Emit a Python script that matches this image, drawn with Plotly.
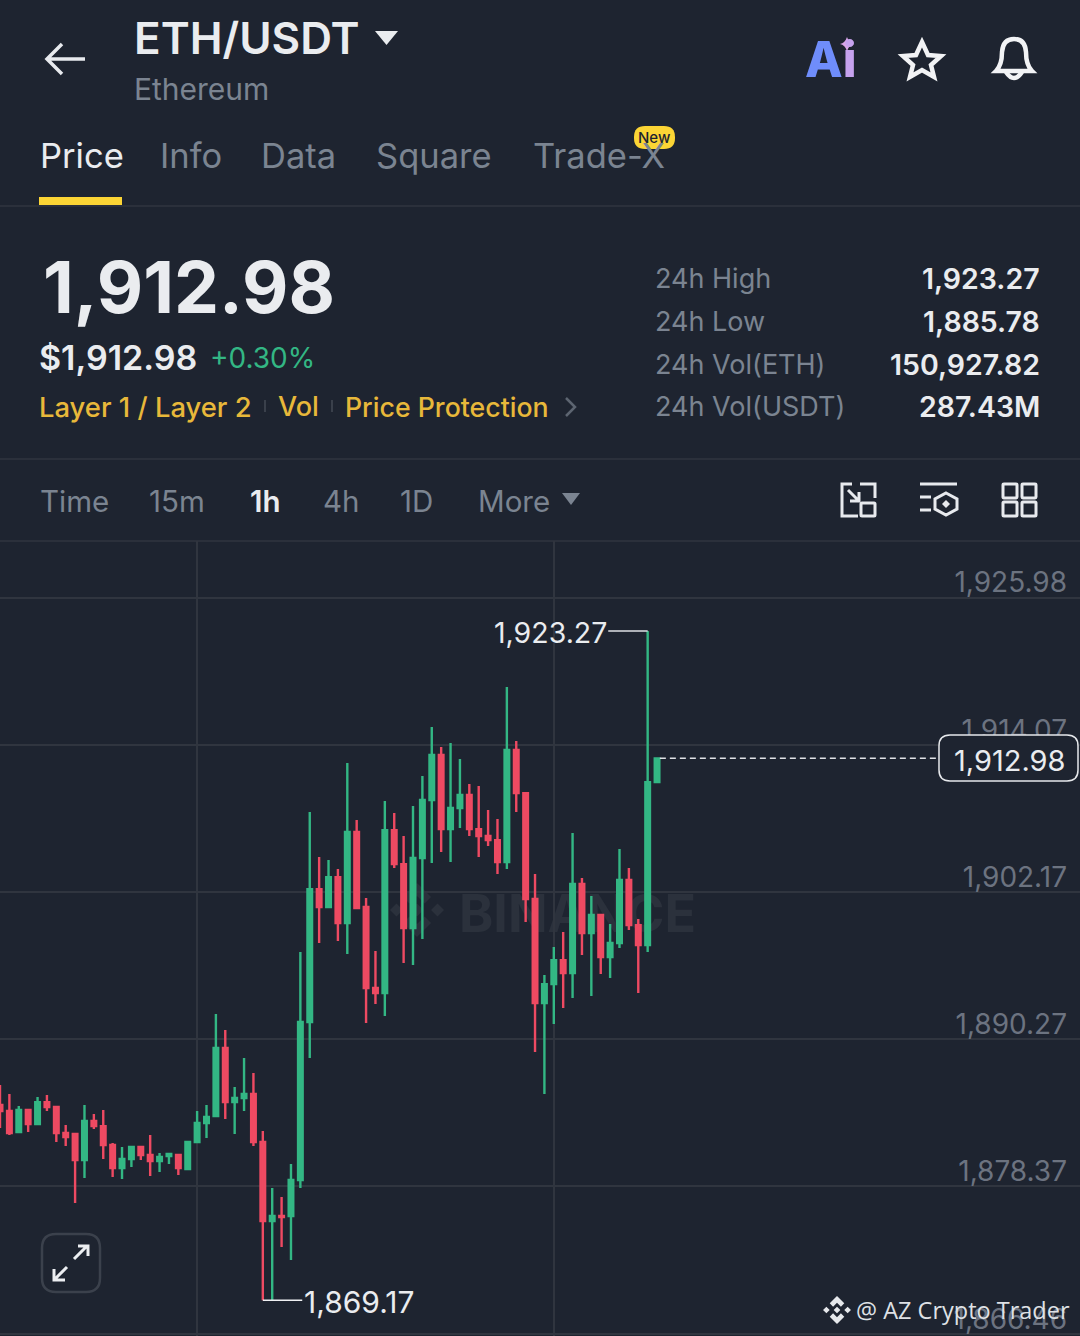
import re
import plotly.graph_objects as go

W, H = 1080, 1336
BG = "#1e2430"
WHITE = "#eaecef"
GRAY = "#7b8491"
GRID = "#30353f"
YELLOW = "#e8b83a"
GREEN = "#33b784"
RED = "#ee4a62"
FONT = "Inter"

opens = [1884.95, 1884.47, 1882.77, 1884.55, 1883.42, 1885.19, 1884.79, 1882.69, 1882.61, 1880.51,
         1883.66, 1883.25, 1881.72, 1879.86, 1880.59, 1881.56, 1880.91, 1880.42, 1880.83, 1880.91,
         1879.78, 1881.96, 1883.50, 1884.06, 1889.56, 1885.19, 1885.52, 1885.84, 1881.96, 1875.57,
         1875.98, 1875.98, 1878.89, 1891.66, 1902.41, 1900.96, 1903.38, 1899.66, 1907.02, 1900.96,
         1894.41, 1894.01, 1907.18, 1904.43, 1899.26, 1904.92, 1909.61, 1913.25, 1907.26, 1908.96,
         1910.01, 1907.26, 1906.70, 1906.37, 1904.60, 1913.65, 1910.17, 1901.61, 1893.20, 1894.73,
         1896.67, 1895.62, 1902.82, 1898.86, 1900.31, 1896.92, 1898.05, 1903.14, 1899.50, 1897.89,
         1911.06]
highs = [1886.57, 1885.84, 1884.87, 1884.55, 1885.60, 1885.76, 1884.79, 1883.33, 1882.61, 1884.95,
         1884.22, 1884.55, 1881.88, 1881.56, 1881.64, 1881.56, 1882.53, 1881.07, 1881.07, 1880.91,
         1881.96, 1884.47, 1884.95, 1892.31, 1891.01, 1886.41, 1888.75, 1887.54, 1882.85, 1878.24,
         1877.51, 1880.18, 1897.32, 1908.64, 1905.00, 1904.76, 1904.03, 1912.60, 1907.99, 1901.69,
         1897.40, 1909.53, 1908.56, 1906.70, 1909.12, 1911.55, 1915.51, 1913.89, 1914.22, 1912.92,
         1910.90, 1910.74, 1908.80, 1908.07, 1918.74, 1914.38, 1910.25, 1903.63, 1895.46, 1897.72,
         1898.94, 1906.94, 1903.30, 1901.85, 1900.31, 1899.58, 1905.65, 1904.11, 1899.99, 1923.27,
         1912.98]
lows = [1883.09, 1882.53, 1882.77, 1882.77, 1883.42, 1884.47, 1881.96, 1881.64, 1877.03, 1879.05,
        1883.01, 1880.59, 1879.13, 1878.97, 1879.94, 1880.51, 1879.21, 1879.54, 1880.18, 1879.29,
        1879.78, 1881.96, 1882.28, 1884.06, 1883.82, 1882.61, 1884.47, 1881.64, 1869.17, 1869.17,
        1873.47, 1872.42, 1878.24, 1888.75, 1898.05, 1900.96, 1898.21, 1897.16, 1900.80, 1891.58,
        1893.12, 1892.15, 1904.11, 1896.43, 1896.27, 1898.37, 1904.51, 1905.40, 1904.60, 1907.34,
        1906.70, 1905.00, 1905.89, 1903.63, 1904.03, 1908.64, 1899.75, 1889.24, 1885.84, 1891.50,
        1892.79, 1893.60, 1897.08, 1893.76, 1895.54, 1895.22, 1897.64, 1899.10, 1894.01, 1897.32,
        1911.06]
closes = [1884.47, 1882.69, 1884.55, 1883.42, 1885.19, 1884.79, 1882.69, 1882.36, 1880.51, 1883.66,
          1883.25, 1881.72, 1879.86, 1880.59, 1881.56, 1880.91, 1880.42, 1880.75, 1880.99, 1879.86,
          1881.96, 1883.50, 1883.98, 1889.56, 1885.19, 1885.52, 1885.84, 1881.96, 1875.57, 1875.98,
          1875.90, 1878.89, 1891.66, 1902.41, 1900.96, 1903.38, 1899.66, 1907.02, 1900.88, 1894.41,
          1894.01, 1907.18, 1904.43, 1899.26, 1904.92, 1909.61, 1913.25, 1907.26, 1908.96, 1910.01,
          1907.26, 1906.70, 1906.37, 1904.60, 1913.65, 1910.17, 1901.61, 1893.20, 1894.73, 1896.67,
          1895.62, 1902.82, 1898.86, 1900.31, 1896.92, 1898.05, 1903.14, 1899.50, 1897.89, 1911.06,
          1912.98]
candle_x = list(range(len(opens)))

price_ticks = [1925.98, 1914.07, 1902.17, 1890.27, 1878.37, 1866.46]
time_grid = [21, 59]
last_price, day_high, day_low = 1912.98, 1923.27, 1869.17
high_idx, low_idx, last_idx = 69, 28, 70

tabs = ["Price", "Info", "Data", "Square", "Trade-X"]
tab_left = [40, 160, 261, 376, 533]
stat_names = ["24h High", "24h Low", "24h Vol(ETH)", "24h Vol(USDT)"]
stat_values = ["1,923.27", "1,885.78", "150,927.82", "287.43M"]
stat_rows = [278, 321, 364, 407]
intervals = ["Time", "15m", "1h", "4h", "1D", "More"]
interval_left = [40, 149, 250, 323, 400, 478]


def px(x):
    return x / W


def py(y):
    return 1 - y / H


def to_paper(d):
    # pixel svg path -> paper coords, numbers are always x y pairs
    out, is_x = [], True
    for tok in re.findall(r"[MLQCZ]|-?\d+\.?\d*", d):
        if tok.isalpha():
            out.append(tok)
        else:
            out.append(f"{px(float(tok)) if is_x else py(float(tok)):.5f}")
            is_x = not is_x
    return " ".join(out)


def path(d, color=None, fill=None, width=3, layer="above"):
    return dict(type="path", path=to_paper(d), xref="paper", yref="paper", layer=layer,
                line=dict(color=color or "rgba(0,0,0,0)", width=width if color else 0),
                fillcolor=fill or "rgba(0,0,0,0)")


def rect(x0, y0, x1, y1, fill):
    return dict(type="rect", xref="paper", yref="paper", x0=px(x0), x1=px(x1), y0=py(y0), y1=py(y1),
                line=dict(width=0), fillcolor=fill, layer="above")


def hline(y, color=GRID):
    return dict(type="line", xref="paper", yref="paper", x0=0, x1=1, y0=py(y), y1=py(y),
                line=dict(color=color, width=1.5), layer="above")


def round_box(x0, y0, x1, y1, r):
    return (f"M {x0+r} {y0} L {x1-r} {y0} Q {x1} {y0} {x1} {y0+r} L {x1} {y1-r} Q {x1} {y1} {x1-r} {y1} "
            f"L {x0+r} {y1} Q {x0} {y1} {x0} {y1-r} L {x0} {y0+r} Q {x0} {y0} {x0+r} {y0} Z")


def diamond(cx, cy, r):
    return f"M {cx} {cy-r} L {cx+r} {cy} L {cx} {cy+r} L {cx-r} {cy} Z "


def logo(cx, cy, s, color, layer="above"):
    # binance mark: centre + side diamonds, top and bottom chevrons
    d = diamond(cx, cy, s * 0.24) + diamond(cx - s * 0.76, cy, s * 0.24) + diamond(cx + s * 0.76, cy, s * 0.24)
    d += (f"M {cx} {cy-s} L {cx+s*0.52} {cy-s*0.48} L {cx+s*0.28} {cy-s*0.24} L {cx} {cy-s*0.52} "
          f"L {cx-s*0.28} {cy-s*0.24} L {cx-s*0.52} {cy-s*0.48} Z ")
    d += (f"M {cx} {cy+s} L {cx+s*0.52} {cy+s*0.48} L {cx+s*0.28} {cy+s*0.24} L {cx} {cy+s*0.52} "
          f"L {cx-s*0.28} {cy+s*0.24} L {cx-s*0.52} {cy+s*0.48} Z")
    return path(d, fill=color, layer=layer)


def label(x, y, text, size, color=GRAY, anchor="left", weight=400, family=FONT):
    return dict(x=px(x), y=py(y), xref="paper", yref="paper", text=text, showarrow=False,
                xanchor=anchor, yanchor="middle", borderpad=0, borderwidth=0,
                font=dict(family=family, size=size, color=color, weight=weight))


fig = go.Figure(go.Candlestick(
    x=candle_x, open=opens, high=highs, low=lows, close=closes,
    increasing=dict(line=dict(color=GREEN, width=2.4), fillcolor=GREEN),
    decreasing=dict(line=dict(color=RED, width=2.4), fillcolor=RED),
    showlegend=False,
))

notes = [
    label(134, 38, "ETH/USDT", 44, WHITE, weight=600),
    label(134, 89, "Ethereum", 30),
    label(654, 137, "New", 15, "#1e2430", "center", 500),
    label(43, 287, "1,912.98", 71.5, WHITE, weight=700),
    label(39, 357, "$1,912.98", 34, WHITE, weight=600),
    label(210, 358, "+0.30%", 28, GREEN),
    label(39, 407, "Layer 1 / Layer 2", 27.4, YELLOW, weight=500),
    label(278, 407, "Vol", 27, YELLOW, weight=500),
    label(345, 407, "Price Protection", 26.7, YELLOW, weight=500),
    label(805, 60, "<span style='color:#6f8dfb'>A</span><span style='color:#c6a2ee'>i</span>", 49, "#6f8dfb", weight=800),
    label(1010, 760, f"{last_price:,.2f}", 29, WHITE, "center"),
    label(607, 632, f"{day_high:,.2f}", 28.5, WHITE, "right"),
    label(304, 1302, f"{day_low:,.2f}", 30, WHITE),
    label(856, 1310, "@ AZ Crypto Trader", 23.5, "#dfe1e5", family="Open Sans"),
]
for name, left, i in zip(tabs, tab_left, range(len(tabs))):
    notes.append(label(left, 156, name, 34.5, WHITE if i == 0 else GRAY))
for name, value, row in zip(stat_names, stat_values, stat_rows):
    notes.append(label(655, row, name, 27))
    notes.append(label(1040, row, value, 28.5, WHITE, "right", 600))
for name, left in zip(intervals, interval_left):
    active = name == "1h"
    notes.append(label(left, 501, name, 29.5, WHITE if active else GRAY, weight=600 if active else 400))

shapes = [
    # watermark goes under the candles
    dict(type="rect", xref="paper", yref="paper", x0=px(450), x1=px(705), y0=py(890), y1=py(932),
         layer="below", line=dict(width=0), fillcolor="rgba(0,0,0,0)",
         label=dict(text="<b>BINANCE</b>", font=dict(family=FONT, size=52, color="#2b313c"),
                    textposition="middle center")),
    logo(417, 910, 27, "#2b313c", "below"),
    hline(206), hline(459), hline(541),
    rect(39, 197, 122, 205, "#fcd535"),
    path(round_box(634, 126, 675, 149, 11), fill="#fcd535"),
    # header icons
    path("M 85 59 L 47 59 M 62 44 L 47 59 L 62 74", "#e8eaee", width=3.5),
    path("M 375 31 L 398 31 L 386.5 45 Z", fill=WHITE),
    path("M 847 37 Q 849 43 854 44 Q 849 45 847 51 Q 845 45 840 44 Q 845 43 847 37 Z", fill="#d9a6e8"),
    path("M 922 42 L 928 55 L 941 56 L 931 65 L 934 77 L 922 70 L 910 77 L 913 65 L 903 56 L 916 55 Z",
         "#f2f3f5", width=4.5),
    path("M 996 71 Q 1002 65 1002 52 Q 1003 39 1014 39 Q 1025 39 1026 52 Q 1026 65 1032 71 Z", "#f2f3f5", width=4.5),
    path("M 1006 72 Q 1014 84 1022 72", "#f2f3f5", width=4.5),
    # small separators and chevron in the tag row
    path("M 265 400 L 265 412", "#3a404b", width=2),
    path("M 332 400 L 332 412", "#3a404b", width=2),
    path("M 566 398 L 575 407 L 566 416", "#5d6571", width=2.5),
    # toolbar icons
    path("M 562 493 L 580 493 L 571 505 Z", fill=GRAY),
    path("M 860 484 L 875 484 L 875 498 M 858 516 L 842 516 L 842 484 L 852 484", "#e8eaee", width=3),
    path(round_box(861, 503, 875, 516, 1), "#e8eaee", width=3),
    path("M 848 490 L 859 501 M 859 492 L 859 501 L 850 501", "#e8eaee", width=3),
    path("M 920 484 L 957 484 M 920 497 L 931 497 M 920 510 L 931 510", "#e8eaee", width=3),
    path("M 946 493 L 957 499 L 957 509 L 946 515 L 935 509 L 935 499 Z", "#e8eaee", width=3),
    path(diamond(946, 504, 4), fill="#e8eaee"),
    path(round_box(1003, 484, 1017, 498, 1), "#e8eaee", width=3),
    path(round_box(1022, 484, 1036, 498, 1), "#e8eaee", width=3),
    path(round_box(1003, 502, 1017, 516, 1), "#e8eaee", width=3),
    path(round_box(1022, 502, 1036, 516, 1), "#e8eaee", width=3),
    # expand button
    path(round_box(42, 1234, 100, 1292, 14), "#3b414c", width=2.5),
    path("M 74 1259 L 87 1246 M 78 1246 L 88 1246 L 88 1256", "#eceef1", width=3),
    path("M 67 1267 L 55 1279 M 54 1269 L 54 1280 L 65 1280", "#eceef1", width=3),
    # high, low and last price leaders
    dict(type="line", xref="x", yref="y", x0=high_idx, x1=64.8, y0=day_high, y1=day_high,
         line=dict(color="#dfe1e5", width=1.5), layer="above"),
    dict(type="line", xref="x", yref="y", x0=low_idx, x1=32.2, y0=day_low, y1=day_low,
         line=dict(color="#f0f1f3", width=1.5), layer="above"),
    dict(type="line", xref="x", yref="y", x0=last_idx + 0.3, x1=100, y0=last_price, y1=last_price,
         line=dict(color="#dfe1e5", width=1.5, dash="6px,4px"), layer="above"),
    path(round_box(939, 735, 1078, 781, 11), "#e6e8eb", BG, 1.5),
    logo(837, 1310, 14, "#e6e8eb"),
]

fig.update_layout(
    width=W, height=H,
    margin=dict(l=0, r=0, t=0, b=0),
    paper_bgcolor=BG, plot_bgcolor=BG,
    boxgap=0.3,
    showlegend=False,
    annotations=notes,
    shapes=shapes,
    xaxis=dict(
        domain=[0, 1], range=[0, 115.06],
        rangeslider=dict(visible=False),
        tickmode="array", tickvals=time_grid, showticklabels=False, ticks="",
        showgrid=True, gridcolor=GRID, gridwidth=1.5, zeroline=False, showline=False,
    ),
    yaxis=dict(
        domain=[0, 1 - 541 / H], range=[1866.28, 1930.55],
        side="right", ticklabelposition="inside",
        tickmode="array", tickvals=price_ticks, tickformat=",.2f",
        tickfont=dict(family=FONT, size=28, color="#6c7380"),
        ticklabelstandoff=10, ticklabelshift=-15, ticks="",
        showgrid=True, gridcolor=GRID, gridwidth=1.5, zeroline=False, showline=False,
    ),
)

# the page default leaves an 8px body margin around the figure
fig.write_html("out.html", config=dict(displayModeBar=False), post_script="document.body.style.margin='0';")
